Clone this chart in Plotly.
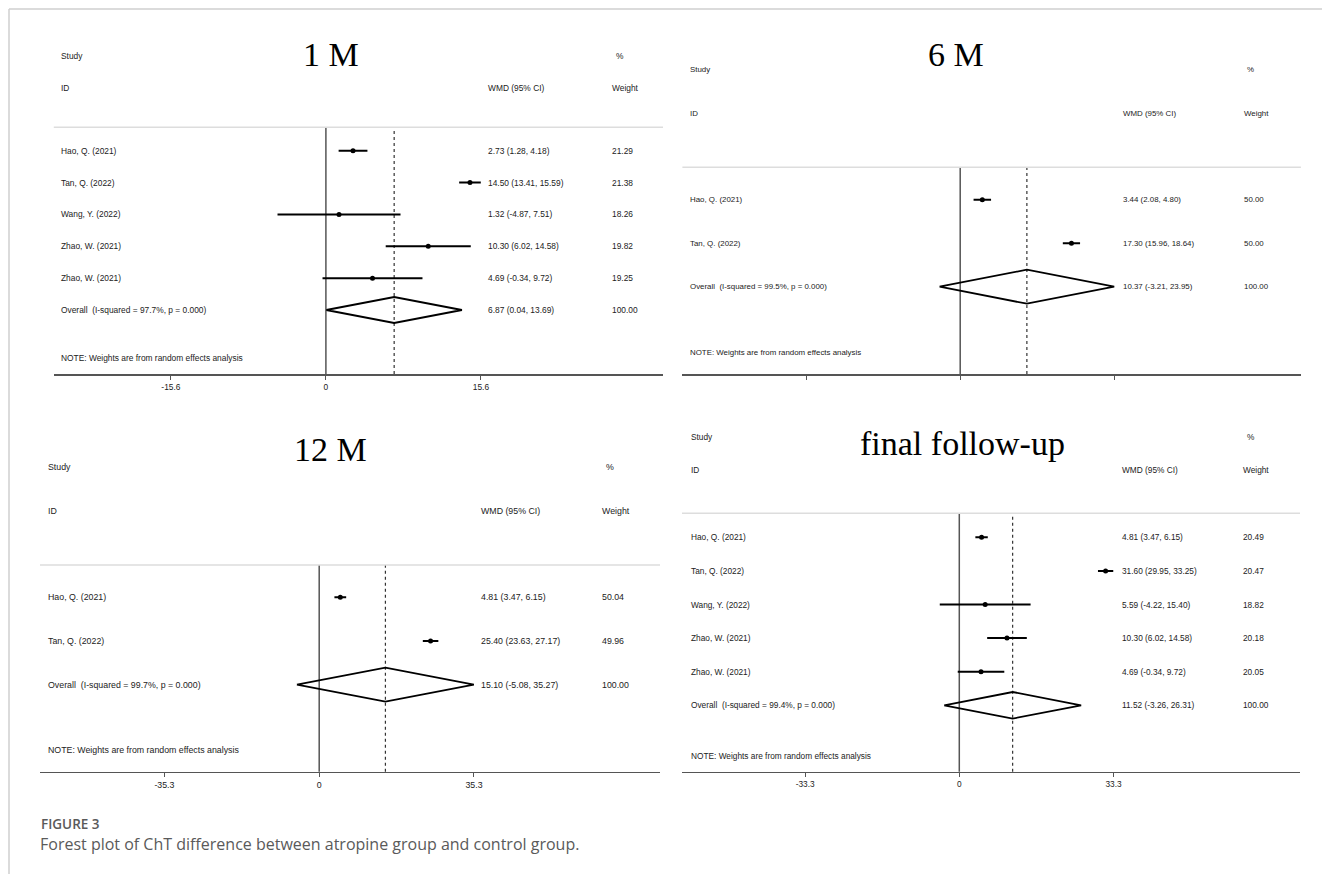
import plotly.graph_objects as go

# ---------------- data ----------------
titles = ["1 M", "6 M", "12 M", "final follow-up"]

p1_studies = ["Hao, Q. (2021)", "Tan, Q. (2022)", "Wang, Y. (2022)", "Zhao, W. (2021)", "Zhao, W. (2021)"]
p1_wmd = [2.73, 14.50, 1.32, 10.30, 4.69]
p1_lo = [1.28, 13.41, -4.87, 6.02, -0.34]
p1_hi = [4.18, 15.59, 7.51, 14.58, 9.72]
p1_weight = [21.29, 21.38, 18.26, 19.82, 19.25]
p1_overall = [6.87, 0.04, 13.69]
p1_isq = 97.7
p1_ticks = [-15.6, 0, 15.6]
p1_ticklabels = ["-15.6", "0", "15.6"]

p2_studies = ["Hao, Q. (2021)", "Tan, Q. (2022)"]
p2_wmd = [3.44, 17.30]
p2_lo = [2.08, 15.96]
p2_hi = [4.80, 18.64]
p2_weight = [50.00, 50.00]
p2_overall = [10.37, -3.21, 23.95]
p2_isq = 99.5
p2_ticks = [-23.95, 0, 23.95]
p2_ticklabels = ["", "", ""]

p3_studies = ["Hao, Q. (2021)", "Tan, Q. (2022)"]
p3_wmd = [4.81, 25.40]
p3_lo = [3.47, 23.63]
p3_hi = [6.15, 27.17]
p3_weight = [50.04, 49.96]
p3_overall = [15.10, -5.08, 35.27]
p3_isq = 99.7
p3_ticks = [-35.3, 0, 35.3]
p3_ticklabels = ["-35.3", "0", "35.3"]

p4_studies = ["Hao, Q. (2021)", "Tan, Q. (2022)", "Wang, Y. (2022)", "Zhao, W. (2021)", "Zhao, W. (2021)"]
p4_wmd = [4.81, 31.60, 5.59, 10.30, 4.69]
p4_lo = [3.47, 29.95, -4.22, 6.02, -0.34]
p4_hi = [6.15, 33.25, 15.40, 14.58, 9.72]
p4_weight = [20.49, 20.47, 18.82, 20.18, 20.05]
p4_overall = [11.52, -3.26, 26.31]
p4_isq = 99.4
p4_ticks = [-33.3, 0, 33.3]
p4_ticklabels = ["-33.3", "0", "33.3"]

caption_head = "FIGURE 3"
caption_text = "Forest plot of ChT difference between atropine group and control group."
note_text = "NOTE: Weights are from random effects analysis"

# ---------------- layout geometry (pixels) ----------------
W, H = 1322, 874
geom = [
    dict(left=53.8, right=663, zero=325.9, ppu=9.936, sep=127.3, axis=374, row0=150.7, step=31.86, half=13,
         lab_x=59.8, est_x=486.8, w_x=611.4, pct_x=614.5, study_y=55.7, id_y=88.3,
         title_x=330.6, title_y=55, note_y=357.7, fs=8.4),
    dict(left=682.4, right=1300.9, zero=960.2, ppu=6.43, sep=167.3, axis=374, row0=199.7, step=43.5, half=17,
         lab_x=688.7, est_x=1121.8, w_x=1243.3, pct_x=1246, study_y=69.3, id_y=113.3,
         title_x=956, title_y=55, note_y=352, fs=7.9),
    dict(left=40, right=660, zero=319.2, ppu=4.385, sep=565, axis=771.7, row0=597.3, step=43.7, half=17,
         lab_x=46.7, est_x=479.7, w_x=600.7, pct_x=604.6, study_y=466.7, id_y=511,
         title_x=330.6, title_y=449.3, note_y=750, fs=8.8),
    dict(left=682, right=1300, zero=959.3, ppu=4.63, sep=513.3, axis=771.7, row0=537.3, step=33.6, half=13.3,
         lab_x=689.9, est_x=1120.6, w_x=1242, pct_x=1246, study_y=436.7, id_y=470,
         title_x=962.2, title_y=443.3, note_y=756, fs=8.3),
]

panels = [
    (p1_studies, p1_wmd, p1_lo, p1_hi, p1_weight, p1_overall, p1_isq, p1_ticks, p1_ticklabels),
    (p2_studies, p2_wmd, p2_lo, p2_hi, p2_weight, p2_overall, p2_isq, p2_ticks, p2_ticklabels),
    (p3_studies, p3_wmd, p3_lo, p3_hi, p3_weight, p3_overall, p3_isq, p3_ticks, p3_ticklabels),
    (p4_studies, p4_wmd, p4_lo, p4_hi, p4_weight, p4_overall, p4_isq, p4_ticks, p4_ticklabels),
]


def fx(x):
    return x / W


def fy(y):
    return 1 - y / H


SANS = "Liberation Sans, Arial, sans-serif"
SERIF = "Liberation Serif, Times New Roman, serif"
TXT = "#222222"

fig = go.Figure()
annotations = []
shapes = []
layout_axes = {}

for i, (g, (studies, wmd, lo, hi, wt, ov, isq, ticks, tlabels), title) in enumerate(zip(geom, panels, titles)):
    n = i + 1
    xa = "x" if n == 1 else f"x{n}"
    ya = "y" if n == 1 else f"y{n}"
    xkey = "xaxis" if n == 1 else f"xaxis{n}"
    ykey = "yaxis" if n == 1 else f"yaxis{n}"

    xr = [(g["left"] - g["zero"]) / g["ppu"], (g["right"] - g["zero"]) / g["ppu"]]
    r_top = (g["sep"] - g["row0"]) / g["step"]
    r_bot = (g["axis"] - g["row0"]) / g["step"]
    layout_axes[xkey] = dict(
        domain=[fx(g["left"]), fx(g["right"])], anchor=ya, range=xr,
        showgrid=False, zeroline=False, showline=True, linecolor="#555555", linewidth=1.6,
        ticks="outside", ticklen=4, tickwidth=1, tickcolor="#555555",
        tickvals=ticks, ticktext=tlabels, tickfont=dict(family=SANS, size=g["fs"], color=TXT),
        fixedrange=True,
    )
    layout_axes[ykey] = dict(
        domain=[fy(g["axis"]), fy(g["sep"])], anchor=xa, range=[r_bot, r_top],
        visible=False, fixedrange=True,
    )

    k = len(studies)
    rows = list(range(k))
    # CI whiskers
    lx, ly = [], []
    for r, a, b in zip(rows, lo, hi):
        lx += [a, b, None]
        ly += [r, r, None]
    fig.add_trace(go.Scatter(x=lx, y=ly, xaxis=xa, yaxis=ya, mode="lines",
                             line=dict(color="black", width=2), hoverinfo="skip", showlegend=False))
    fig.add_trace(go.Scatter(x=wmd, y=rows, xaxis=xa, yaxis=ya, mode="markers",
                             marker=dict(color="black", size=5, symbol="circle"),
                             showlegend=False, hoverinfo="skip"))
    # overall diamond
    est, olo, ohi = ov
    h = g["half"] / g["step"]
    fig.add_trace(go.Scatter(x=[olo, est, ohi, est, olo], y=[k, k - h, k, k + h, k],
                             xaxis=xa, yaxis=ya, mode="lines",
                             line=dict(color="black", width=1.8), showlegend=False, hoverinfo="skip"))

    yd = "y domain" if n == 1 else f"y{n} domain"
    shapes.append(dict(type="line", xref=xa, yref=yd, x0=0, x1=0, y0=0, y1=1,
                       line=dict(color="#555555", width=1.5), layer="below"))
    shapes.append(dict(type="line", xref=xa, yref=yd, x0=est, x1=est, y0=0, y1=1,
                       line=dict(color="#333333", width=1.2, dash="3px,3px"), layer="below"))
    # separator line
    shapes.append(dict(type="line", xref="paper", yref="paper", x0=fx(g["left"]), x1=fx(g["right"]),
                       y0=fy(g["sep"]), y1=fy(g["sep"]), line=dict(color="#dddddd", width=1.5)))

    def txt(x, y, s, size=g["fs"], family=SANS, color=TXT, xanchor="left"):
        annotations.append(dict(x=fx(x), y=fy(y), xref="paper", yref="paper", text=s, showarrow=False,
                                xanchor=xanchor, yanchor="middle", borderpad=0,
                                font=dict(family=family, size=size, color=color)))

    txt(g["title_x"], g["title_y"], title, size=34, family=SERIF, color="black", xanchor="center")
    txt(g["lab_x"], g["study_y"], "Study")
    txt(g["pct_x"], g["study_y"], "%")
    txt(g["lab_x"], g["id_y"], "ID")
    txt(g["est_x"], g["id_y"], "WMD (95% CI)")
    txt(g["w_x"], g["id_y"], "Weight")
    for r, s, e, a, b, w in zip(rows, studies, wmd, lo, hi, wt):
        yy = g["row0"] + g["step"] * r
        txt(g["lab_x"], yy, s)
        txt(g["est_x"], yy, f"{e:.2f} ({a:.2f}, {b:.2f})")
        txt(g["w_x"], yy, f"{w:.2f}")
    yy = g["row0"] + g["step"] * k
    txt(g["lab_x"], yy, f"Overall\u00a0\u00a0(I-squared = {isq:.1f}%, p = 0.000)")
    txt(g["est_x"], yy, f"{est:.2f} ({olo:.2f}, {ohi:.2f})")
    txt(g["w_x"], yy, "100.00")
    txt(g["lab_x"], g["note_y"], note_text)

# frame lines
shapes.append(dict(type="line", xref="paper", yref="paper", x0=fx(9), x1=1, y0=fy(9), y1=fy(9),
                   line=dict(color="#cfcfcf", width=1.5)))
shapes.append(dict(type="line", xref="paper", yref="paper", x0=fx(9), x1=fx(9), y0=fy(9), y1=0,
                   line=dict(color="#cfcfcf", width=1.5)))

# caption
annotations.append(dict(x=fx(40), y=fy(823.5), xref="paper", yref="paper", text=caption_head, showarrow=False,
                        xanchor="left", yanchor="middle", borderpad=0,
                        font=dict(family="Open Sans, Noto Sans, sans-serif", size=13.5, color="#5a5a5a", weight=600)))
annotations.append(dict(x=fx(39), y=fy(844), xref="paper", yref="paper", text=caption_text, showarrow=False,
                        xanchor="left", yanchor="middle", borderpad=0,
                        font=dict(family="Open Sans, Noto Sans, sans-serif", size=16, color="#5a5a5a")))

fig.update_layout(
    width=W, height=H, autosize=False,
    margin=dict(l=0, r=0, t=0, b=0, pad=0),
    paper_bgcolor="white", plot_bgcolor="white",
    annotations=annotations, shapes=shapes, showlegend=False,
    **layout_axes,
)

fig.write_html("out.html", config={"displayModeBar": False, "staticPlot": True},
               post_script="document.body.style.margin='0';document.body.style.overflow='hidden';")
